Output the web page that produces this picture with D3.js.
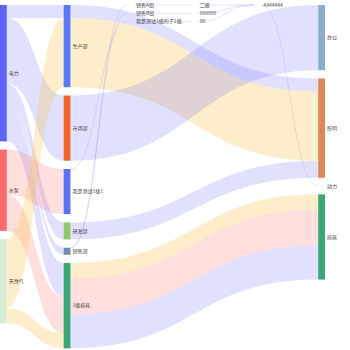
<!DOCTYPE html>
<html><head><meta charset="utf-8">
<script src="https://cdn.jsdelivr.net/npm/d3@7/dist/d3.min.js"></script>
<style>body{margin:0;background:#fff}svg{display:block}</style>
</head><body><svg id="c" width="350" height="350"></svg>
<script>
// ---------- data ----------
const nodeNames = ["电力","水泵","天然气","生产部","市场部","我是测试1级1","研发部","销售部","1级损耗",
  "销售A组","销售B组","我是测试1级的子1级","二级","999999","00","4444444","办公","照明","动力","损耗"];
const nodeDepths = [0,0,0,1,1,1,1,1,1,2,2,2,3,3,3,4,5,5,5,5];
const linkSources = ["电力","电力","电力","电力","电力","水泵","水泵","天然气","天然气",
  "生产部","生产部","市场部","研发部","1级损耗","1级损耗","1级损耗",
  "销售部","销售部","我是测试1级1","销售A组","销售B组","我是测试1级的子1级","二级","999999","00","4444444"];
const linkTargets = ["生产部","市场部","研发部","销售部","1级损耗","我是测试1级1","1级损耗","生产部","1级损耗",
  "照明","照明","办公","照明","损耗","损耗","损耗",
  "销售A组","销售B组","我是测试1级的子1级","二级","999999","00","4444444","4444444","4444444","动力"];
const linkValues = [13,65,17,7,34,45,36,69,15,
  13,69,65,17,15,36,34,
  0,0,0,0,0,0,0,0,0,0];
const linkCarriers = ["电力","电力","电力","电力","电力","水泵","水泵","天然气","天然气",
  "电力","天然气","电力","电力","天然气","水泵","电力",
  "电力","电力","电力","电力","电力","电力","电力","电力","电力","电力"];

// ---------- styles ----------
const nodeColor = {"电力":"#6161f8","水泵":"#fb6a6c","天然气":"#d6ecd3","生产部":"#5b78f7","市场部":"#f4652b",
  "我是测试1级1":"#5a72f4","研发部":"#93c76f","销售部":"#6b91ad","1级损耗":"#3ba676",
  "办公":"#8badcd","照明":"#e08654","损耗":"#3ba676"};
const carrierColor = {"电力":"rgba(105,105,255,0.2)","水泵":"rgba(255,105,105,0.22)","天然气":"rgba(250,200,90,0.32)"};
const W = 350, padTop = 5, padBottom = 348.3, nodeW = 6.8, gap = 8.3, curveness = 0.5;

// ---------- layout ----------
const nodes = nodeNames.map((n,i)=>({name:n, depth:nodeDepths[i], ins:[], outs:[]}));
const byName = new Map(nodes.map(n=>[n.name,n]));
const links = linkSources.map((s,i)=>({source:byName.get(s), target:byName.get(linkTargets[i]), value:linkValues[i], carrier:linkCarriers[i], idx:i}));
links.forEach(l=>{l.source.outs.push(l); l.target.ins.push(l);});
nodes.forEach(n=>{n.value=Math.max(d3.sum(n.ins,l=>l.value), d3.sum(n.outs,l=>l.value));});
const maxDepth = d3.max(nodes,n=>n.depth);
const x = d3.scaleLinear().domain([0,maxDepth]).range([0, W - 25 - nodeW]);
const cols = d3.groups(nodes,n=>n.depth).map(g=>g[1]);
const kyVal = d3.min(cols.filter(c=>d3.sum(c,n=>n.value)>0), c=>((padBottom-padTop)-(c.length-1)*gap)/d3.sum(c,n=>n.value));
const y = d3.scaleLinear().domain([0,1]).range([0,kyVal]);
cols.forEach(c=>{let yy=padTop; c.forEach(n=>{n.x0=x(n.depth); n.x1=n.x0+nodeW; n.y0=yy; n.dy=y(n.value); n.y1=yy+n.dy; yy=n.y1+gap;});});
nodes.forEach(n=>{
  const outs=n.outs.slice().sort((a,b)=>(a.target.y0-b.target.y0)||(a.idx-b.idx));
  let sy=n.y0; outs.forEach(l=>{l.sy=sy; l.dy=y(l.value); sy+=l.dy;});
  const ins=n.ins.slice().sort((a,b)=>(a.source.y0-b.source.y0)||(a.idx-b.idx));
  let ty=n.y0; ins.forEach(l=>{l.ty=ty; ty+=y(l.value);});
});

function curve(x1,x2){
  return [x1*(1-curveness)+x2*curveness, x1*curveness+x2*(1-curveness)];
}
function linkArea(l){
  const x1=l.source.x1, x2=l.target.x0, y1=l.sy, y2=l.ty, d=l.dy;
  const [c1,c2]=curve(x1,x2);
  return `M${x1},${y1}C${c1},${y1} ${c2},${y2} ${x2},${y2}L${x2},${y2+d}C${c2},${y2+d} ${c1},${y1+d} ${x1},${y1+d}Z`;
}
function linkLine(l){
  const x1=l.source.x1, x2=l.target.x0, y1=l.sy, y2=l.ty;
  const [c1,c2]=curve(x1,x2);
  return `M${x1},${y1}C${c1},${y1} ${c2},${y2} ${x2},${y2}`;
}

const svg=d3.select("#c");
svg.append("g").selectAll("path").data(links.filter(l=>l.value>0)).join("path")
  .attr("d",linkArea).attr("fill",l=>carrierColor[l.carrier]);
svg.append("g").selectAll("path").data(links.filter(l=>l.value===0)).join("path")
  .attr("d",linkLine).attr("fill","none").attr("stroke","rgba(120,120,235,0.28)").attr("stroke-width",0.7);
svg.append("g").selectAll("rect").data(nodes.filter(n=>n.dy>0)).join("rect")
  .attr("x",n=>n.x0).attr("y",n=>n.y0).attr("width",nodeW).attr("height",n=>n.dy)
  .attr("fill",n=>nodeColor[n.name]||"#888");
svg.append("g").selectAll("text").data(nodes).join("text")
  .attr("x",n=>n.x1+2).attr("y",n=>n.y0+n.dy/2).attr("dy","0.35em")
  .attr("font-family","'Noto Sans CJK SC','Noto Sans',sans-serif").attr("font-size",5)
  .attr("fill","#444").text(n=>n.name);
</script></body></html>
